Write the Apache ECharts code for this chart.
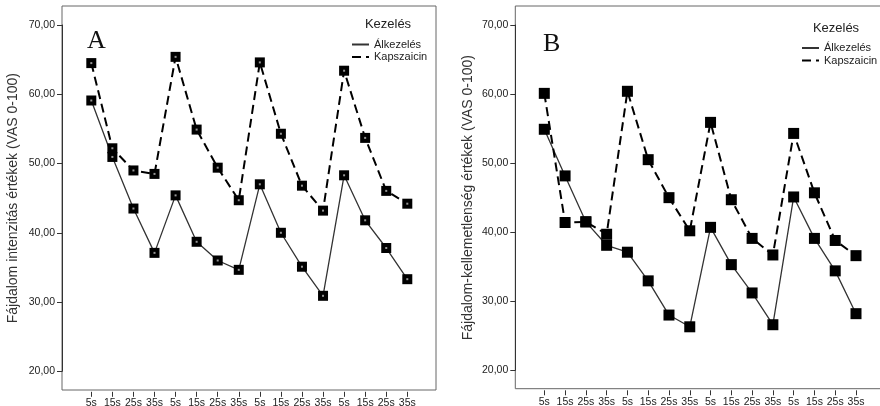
<!DOCTYPE html>
<html>
<head>
<meta charset="utf-8">
<script src="https://cdn.jsdelivr.net/npm/echarts@6/dist/echarts.min.js"></script>
<style>
html,body{margin:0;padding:0;background:#fff;}
#c{width:880px;height:406px;}
</style>
</head>
<body>
<div id="c"></div>
<script>
const categories = ['5s','15s','25s','35s','5s','15s','25s','35s','5s','15s','25s','35s','5s','15s','25s','35s'];
const seriesNames = ['Álkezelés', 'Kapszaicin'];
const aSham = [59.1, 50.95, 43.5, 37.1, 45.4, 38.7, 36.0, 34.65, 47.0, 40.0, 35.1, 30.9, 48.3, 41.8, 37.8, 33.3];
const aCaps = [64.5, 52.2, 49.0, 48.5, 65.4, 54.9, 49.4, 44.7, 64.6, 54.3, 46.8, 43.2, 63.4, 53.7, 46.05, 44.2];
const bSham = [54.9, 48.15, 41.5, 38.1, 37.1, 32.95, 28.0, 26.3, 40.7, 35.3, 31.2, 26.6, 45.1, 39.1, 34.4, 28.2];
const bCaps = [60.1, 41.4, 41.5, 39.7, 60.4, 50.5, 45.0, 40.2, 55.9, 44.7, 39.1, 36.7, 54.3, 45.7, 38.8, 36.6];
const yMin = 20, yMax = 70, yStep = 10;
const yTitleA = 'Fájdalom intenzitás értékek (VAS 0-100)';
const yTitleB = 'Fájdalom-kellemetlenség értékek (VAS 0-100)';
const legendTitle = 'Kezelés';

const FONT = 'Liberation Sans, Arial, sans-serif';
const chart = echarts.init(document.getElementById('c'));

function yAxis(gridIndex, name, offset, nameGap) {
  return {
    type: 'value', gridIndex, min: yMin, max: yMax, interval: yStep, offset,
    axisLine: { show: true, lineStyle: { color: '#333', width: 1 } },
    axisTick: { show: true, length: 5, lineStyle: { color: '#333' } },
    axisLabel: { margin: 7, fontSize: 10.5, color: '#222', fontFamily: FONT,
      formatter: v => v.toFixed(2).replace('.', ',') },
    splitLine: { show: false },
    name, nameLocation: 'middle', nameGap, nameRotate: 90,
    nameTextStyle: { fontSize: 14, color: '#333', fontFamily: FONT }
  };
}
function xAxis(gridIndex, offset) {
  return {
    type: 'category', gridIndex, data: categories, boundaryGap: false, offset,
    axisLine: { show: false },
    axisTick: { show: true, length: 5, interval: 0, lineStyle: { color: '#333' } },
    axisLabel: { interval: 0, margin: 6, fontSize: 10.5, color: '#222', fontFamily: FONT, hideOverlap: false }
  };
}
function hiddenAxes(gridIndex) {
  return [{ type: 'value', gridIndex, show: false }, { type: 'value', gridIndex, show: false }];
}
function lineSeries(name, data, axisIdx, dashed, symSize) {
  return {
    type: 'line', name, data, xAxisIndex: axisIdx, yAxisIndex: axisIdx,
    symbol: 'rect', symbolSize: symSize, showSymbol: true,
    itemStyle: { color: '#000' },
    lineStyle: dashed ? { color: '#000', width: 2, type: [9, 5] } : { color: '#333', width: 1.3 },
    emphasis: { disabled: true }, animation: false, z: dashed ? 3 : 2
  };
}
function dotSeries(data, axisIdx) {
  return {
    type: 'scatter', data, xAxisIndex: axisIdx, yAxisIndex: axisIdx,
    symbol: 'rect', symbolSize: 2, itemStyle: { color: '#bbb' }, silent: true, z: 5, animation: false
  };
}
function legend(left, top) {
  return {
    data: seriesNames, orient: 'vertical', left, top, padding: 0,
    itemWidth: 17, itemHeight: 8, itemGap: 0.5, selectedMode: false,
    itemStyle: { opacity: 0 },
    textStyle: { fontSize: 11, lineHeight: 12, color: '#222', fontFamily: FONT }
  };
}

const xa = [], ya = [];
// grid 0: frame A, grid 1: data A, grid 2: frame B, grid 3: data B
const h0 = hiddenAxes(0), h2 = hiddenAxes(2);
xa.push(h0[0]); ya.push(h0[1]);
xa.push(xAxis(1, 20.5)); ya.push(yAxis(1, yTitleA, 29.3, 42));
xa.push(h2[0]); ya.push(h2[1]);
xa.push(xAxis(3, 20)); ya.push(yAxis(3, yTitleB, 29, 40));

const option = {
  backgroundColor: '#fff',
  animation: false,
  grid: [
    { left: 62, top: 6, width: 374, height: 384, show: true, borderColor: '#666', borderWidth: 1, containLabel: false, outerBoundsMode: 'none' },
    { left: 91.3, top: 25, width: 316, height: 346.3, containLabel: false, outerBoundsMode: 'none' },
    { left: 515.3, top: 6, width: 380, height: 382.7, show: true, borderColor: '#666', borderWidth: 1, containLabel: false, outerBoundsMode: 'none' },
    { left: 544.3, top: 25, width: 311.7, height: 345.3, containLabel: false, outerBoundsMode: 'none' }
  ],
  xAxis: xa,
  yAxis: ya,
  legend: [legend(351, 38.5), legend(801, 42)],
  series: [
    lineSeries(seriesNames[0], aSham, 1, false, 10),
    lineSeries(seriesNames[1], aCaps, 1, true, 10),
    dotSeries(aSham, 1),
    dotSeries(aCaps, 1),
    lineSeries(seriesNames[0], bSham, 3, false, 11),
    lineSeries(seriesNames[1], bCaps, 3, true, 11)
  ],
  graphic: [
    { type: 'text', left: 87, top: 28, style: { text: 'A', font: '26px "Liberation Serif", "Times New Roman", serif', fill: '#111' } },
    { type: 'text', left: 543, top: 31, style: { text: 'B', font: '26px "Liberation Serif", "Times New Roman", serif', fill: '#111' } },
    { type: 'text', x: 388, y: 24.5, style: { text: legendTitle, font: '13px ' + FONT, fill: '#222', align: 'center', verticalAlign: 'middle' } },
    { type: 'text', x: 836, y: 28.5, style: { text: legendTitle, font: '13px ' + FONT, fill: '#222', align: 'center', verticalAlign: 'middle' } }
  ]
};
chart.setOption(option);
</script>
</body>
</html>
